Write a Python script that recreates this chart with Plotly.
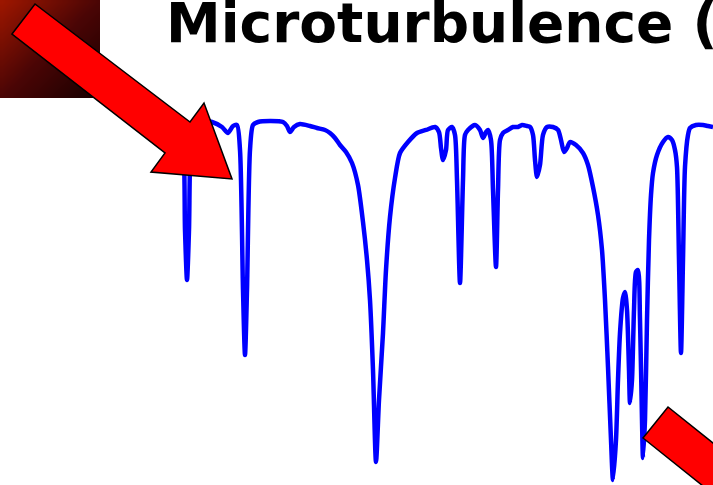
import plotly.graph_objects as go

W, H = 713, 485

# Spectrum data (wavelength-like position, normalised flux)
wave = [178, 183, 185, 187, 189, 191, 195, 205, 212, 222, 228, 233, 237, 240, 243, 245, 247, 250, 253, 258,
        270, 283, 287, 290, 294, 300, 310, 317, 325, 330, 335, 340, 346, 352, 358, 363, 367, 370, 373, 376,
        379, 383, 386, 390, 395, 400, 408, 417, 426, 435, 439, 441, 443, 446, 448, 452, 455, 457, 460, 463,
        465, 468, 475, 480, 483, 486, 488, 491, 493, 496, 498, 500, 503, 508, 513, 518, 522, 527, 530, 533,
        535, 537, 540, 543, 547, 553, 558, 561, 564, 567, 570, 576, 583, 588, 593, 598, 602, 605, 608, 611,
        613, 616, 618, 620, 623, 625, 627, 629, 630, 632, 634, 636, 638, 640, 642, 643, 645, 647, 649, 651,
        653, 657, 663, 668, 672, 675, 677, 679, 681, 683, 685, 688, 690, 696, 703, 708, 713]
ypix = [123, 140, 230, 280, 230, 140, 122, 121, 122, 127, 133, 126, 125, 150, 290, 355, 290, 150, 125, 122,
        121, 122, 126, 132, 127, 124, 126, 128, 130, 133, 138, 145, 152, 163, 185, 222, 260, 300, 370, 462,
        400, 333, 270, 217, 178, 153, 142, 133, 130, 127, 132, 148, 160, 150, 130, 127, 135, 180, 283, 180,
        135, 130, 125, 130, 138, 132, 130, 140, 190, 267, 190, 140, 133, 130, 127, 127, 125, 126, 127, 135,
        160, 177, 165, 135, 127, 127, 130, 140, 152, 148, 142, 145, 153, 165, 187, 215, 250, 300, 367, 440,
        480, 440, 380, 333, 298, 292, 310, 370, 403, 380, 310, 272, 270, 320, 420, 458, 420, 320, 240, 195,
        173, 155, 142, 137, 140, 150, 167, 260, 353, 260, 167, 135, 128, 125, 125, 126, 127]
flux = [round((485 - v) / 362, 4) for v in ypix]

title_text = "Microturbulence ("


def P(x, y):
    return f"{x / W:.5f},{1 - y / H:.5f}"


def path(pts):
    return "M " + " L ".join(P(x, y) for x, y in pts) + " Z"


fig = go.Figure()

# gradient box (top-left)
n = 24
z = [[c + (n - 1 - r) for c in range(n)] for r in range(n)]
fig.add_trace(go.Heatmap(
    z=z, xaxis="x2", yaxis="y2", showscale=False, zsmooth="best", hoverinfo="skip",
    colorscale=[[0, "#9c1600"], [0.5, "#4a0505"], [1, "#180000"]],
))

fig.add_trace(go.Scatter(
    x=wave, y=flux, mode="lines",
    line=dict(color="#0000ff", width=4.5, shape="spline", smoothing=0.7),
    hoverinfo="skip", showlegend=False,
))

arrow1 = [(12, 34), (35, 4), (190, 122), (204, 103), (232, 179), (151, 172), (165, 153)]
arrow2 = [(643, 438), (668, 407), (818, 527), (793, 558)]

shapes = [
    dict(type="path", xref="paper", yref="paper", path=path(arrow1),
         fillcolor="#ff0000", line=dict(color="black", width=1.5), layer="above"),
    dict(type="path", xref="paper", yref="paper", path=path(arrow2),
         fillcolor="#ff0000", line=dict(color="black", width=1.5), layer="above"),
]

fig.update_layout(
    width=W, height=H,
    margin=dict(l=0, r=0, t=0, b=0),
    paper_bgcolor="white", plot_bgcolor="white",
    showlegend=False,
    xaxis=dict(range=[0, W], visible=False, fixedrange=True),
    yaxis=dict(range=[0, 485 / 362], visible=False, fixedrange=True),
    xaxis2=dict(domain=[0, 100 / W], visible=False, anchor="y2", range=[-0.5, n - 0.5]),
    yaxis2=dict(domain=[1 - 98 / H, 1], visible=False, anchor="x2", range=[-0.5, n - 0.5]),
    shapes=shapes,
    annotations=[dict(
        text=f"<b>{title_text}</b>", xref="paper", yref="paper",
        x=164 / W, y=1 - 23 / H, xanchor="left", yanchor="middle",
        showarrow=False, font=dict(family="DejaVu Sans", size=55, color="black"),
    )],
)

fig.write_html("out.html")
